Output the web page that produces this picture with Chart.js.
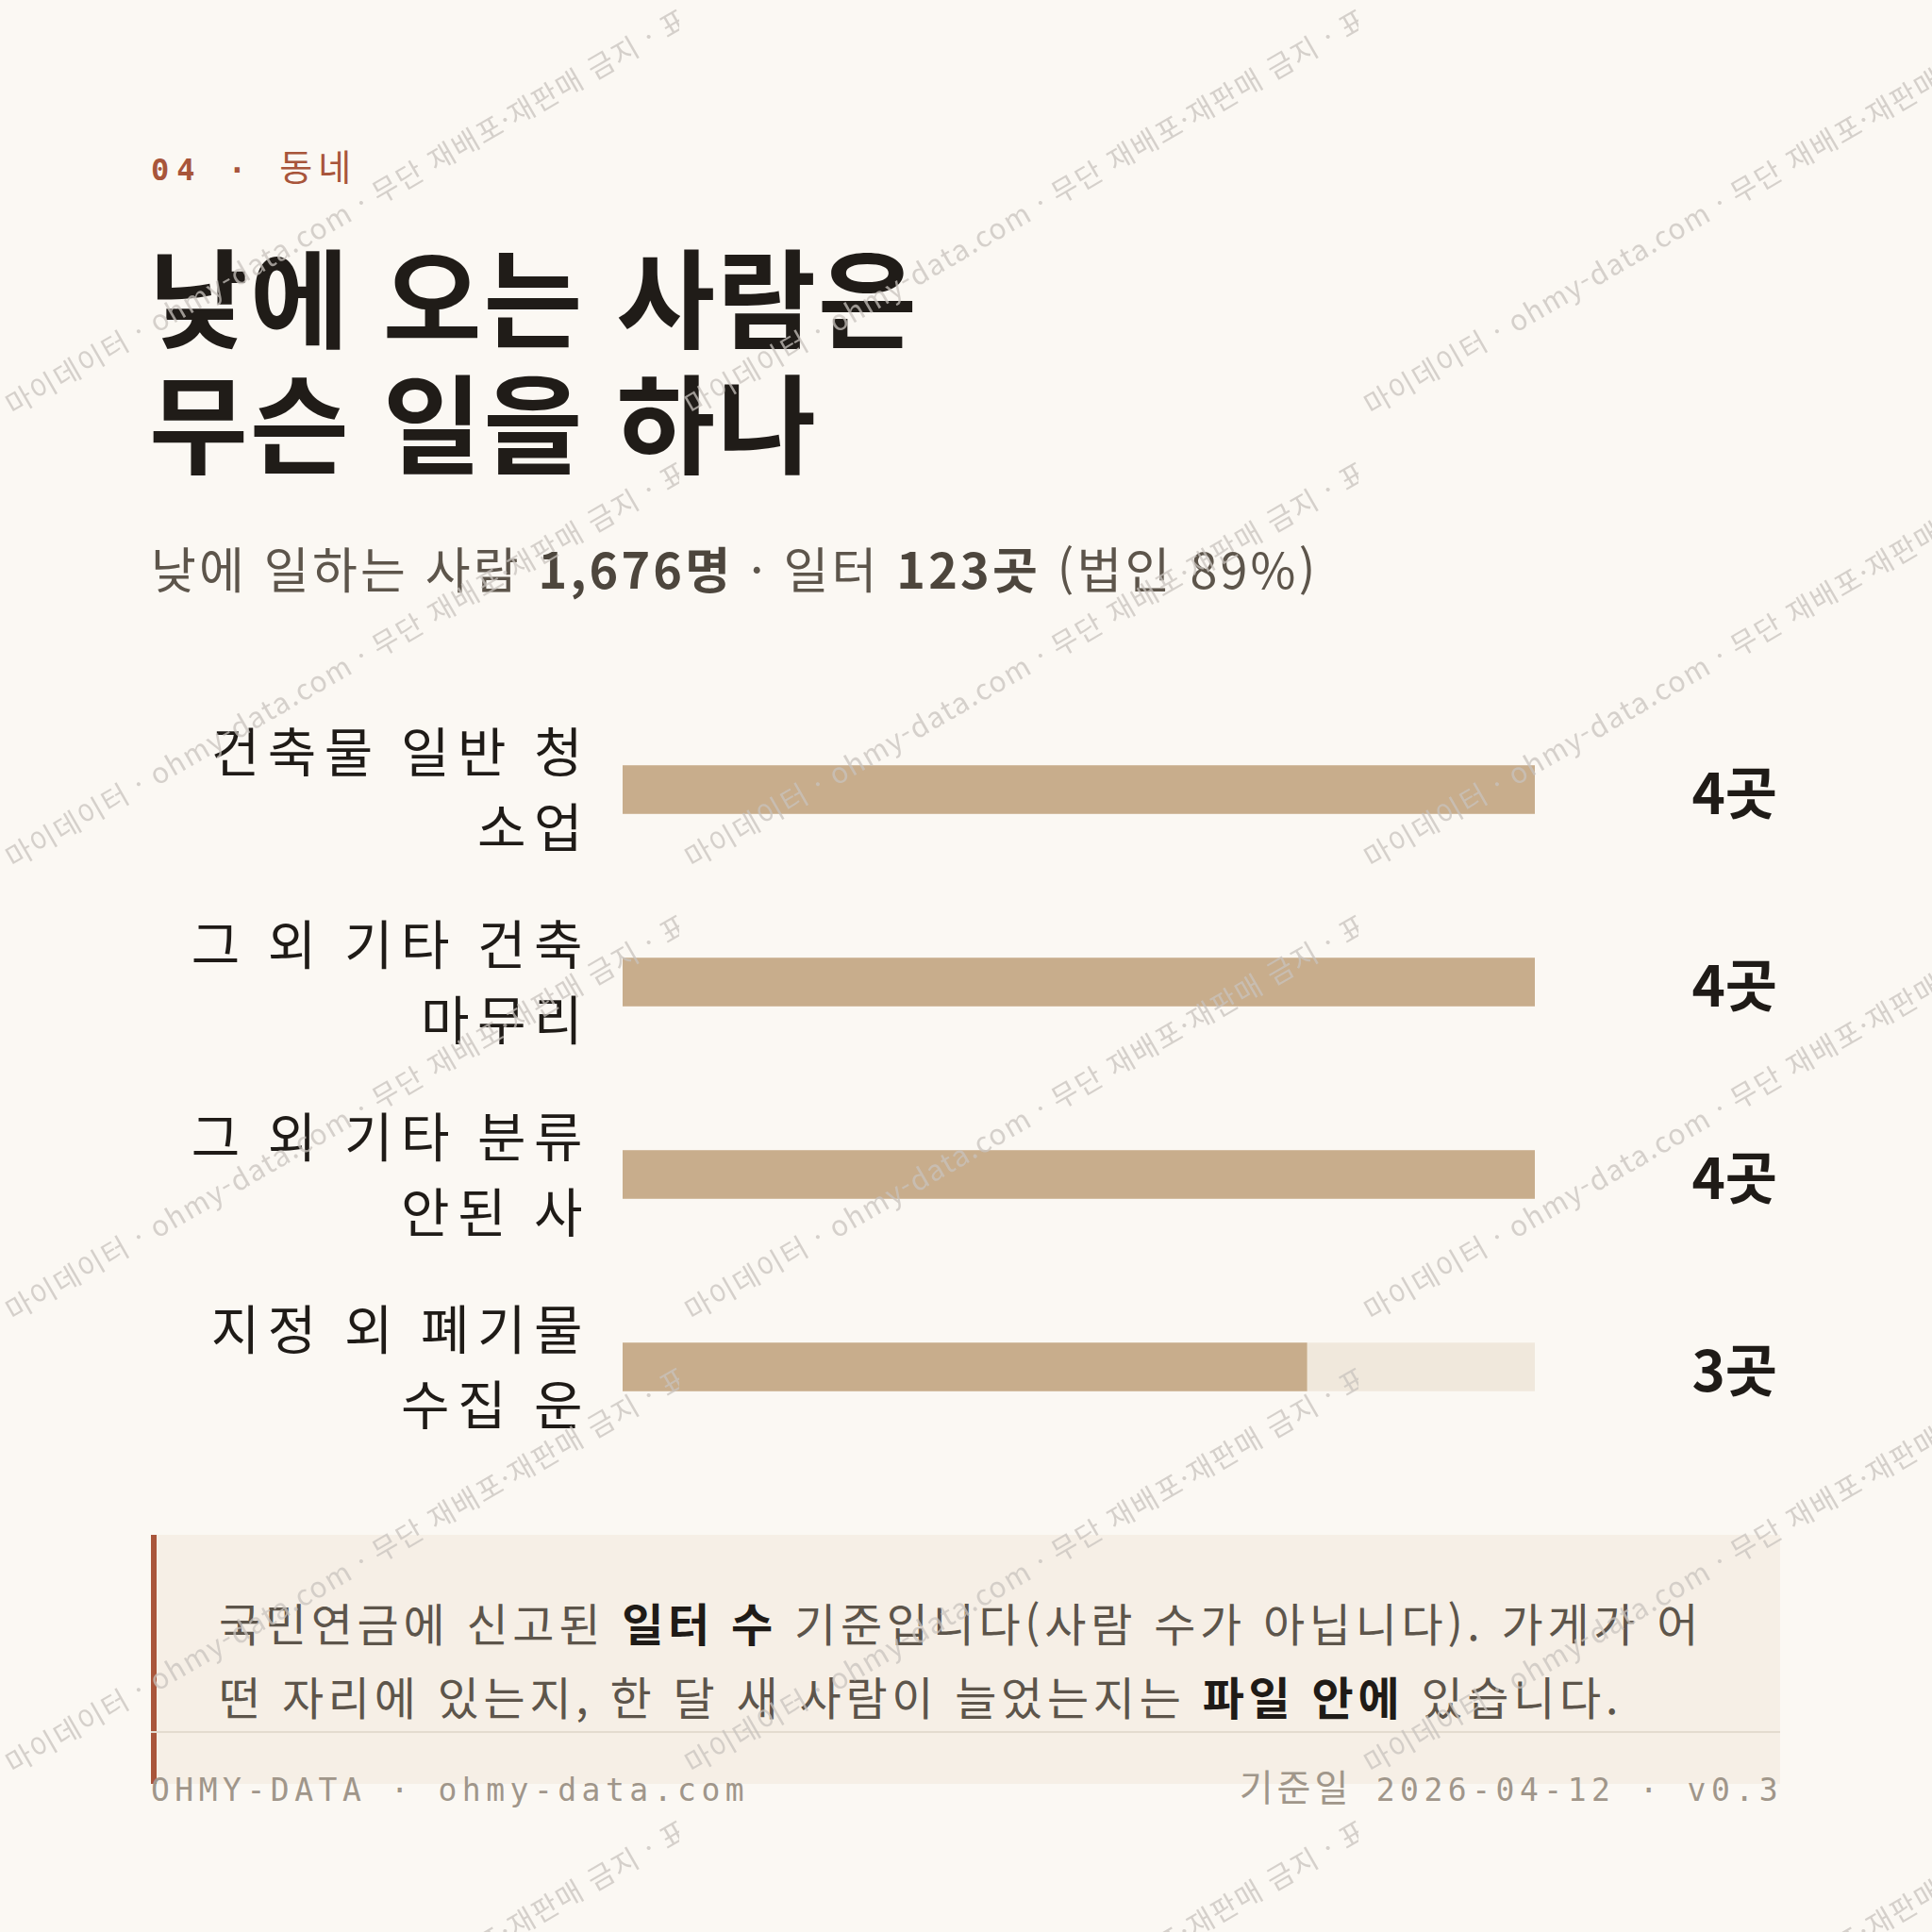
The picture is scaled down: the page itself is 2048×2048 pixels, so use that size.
<!DOCTYPE html>
<html lang="ko">
<head>
<meta charset="utf-8">
<script src="https://cdn.jsdelivr.net/npm/chart.js@4.4.1/dist/chart.umd.min.js"></script>
<style>
  html, body { margin: 0; padding: 0; }
  body {
    width: 2048px; height: 2048px; position: relative; overflow: hidden;
    background: #fbf8f3; font-family: "Noto Sans CJK KR", "Noto Sans", sans-serif;
  }
  .abs { position: absolute; }
  .eyebrow {
    left: 160px; top: 155px; font-size: 32px; line-height: 40px; letter-spacing: 8px;
    color: #a8553a; font-family: "DejaVu Sans Mono", "Noto Sans CJK KR", monospace;
    white-space: nowrap;
  }
  .eyebrow b { font-weight: 700; }
  .eyebrow .ko { font-family: "Noto Sans CJK KR", sans-serif; font-size: 38px; letter-spacing: 6px; }
  .title {
    left: 158px; top: 244px; font-size: 114px; line-height: 133px; font-weight: 700;
    letter-spacing: 2px; color: #201c18; margin: 0; white-space: nowrap;
  }
  .sub {
    left: 160px; top: 567px; font-size: 52px; line-height: 70px; color: #5d554b;
    white-space: nowrap; letter-spacing: 3.2px;
  }
  .sub b { font-weight: 700; color: #4d463d; }
  #wrap { left: 160px; top: 700px; width: 1728px; height: 890px; }
  .note {
    left: 160px; top: 1627px; width: 1727px; height: 264px; box-sizing: border-box;
    background: #f6efe6; border-left: 6px solid #a9553a;
    padding: 53px 0 0 66px; font-size: 48px; line-height: 78px; color: #5d554b;
    white-space: nowrap; letter-spacing: 4.7px;
  }
  .note b { color: #1f1b17; font-weight: 700; }
  .rule { left: 160px; top: 1835px; width: 1727px; height: 2px; background: #e3dbcf; }
  .foot {
    top: 1878px; font-size: 33px; line-height: 40px; letter-spacing: 5.5px; color: #a0968a;
    font-family: "DejaVu Sans Mono", "Noto Sans CJK KR", monospace; white-space: nowrap;
  }
  .foot .ko { font-family: "Noto Sans CJK KR", sans-serif; font-size: 39px; letter-spacing: 4px; }
  .foot.l { left: 160px; }
  .foot.r { right: 158px; top: 1872px; }
  #wm { left: 0; top: 0; width: 2048px; height: 2048px; pointer-events: none; }
  .tile { position: absolute; width: 720px; height: 480px; overflow: hidden; }
  .tile span {
    position: absolute; left: 15px; bottom: 37px; transform-origin: 0 100%;
    transform: rotate(-30deg); white-space: nowrap; font-size: 30px; line-height: 1;
    letter-spacing: 1.6px; color: rgba(200, 195, 190, 0.75);
  }
</style>
</head>
<body>
<div class="abs eyebrow"><b>04 ·</b> <span class="ko">동네</span></div>
<h1 class="abs title">낮에 오는 사람은<br>무슨 일을 하나</h1>
<div class="abs sub">낮에 일하는 사람 <b>1,676명</b> · 일터 <b>123곳</b> (법인 89%)</div>
<div class="abs" id="wrap"><canvas id="chart" width="1728" height="890"></canvas></div>
<div class="abs note">국민연금에 신고된 <b>일터 수</b> 기준입니다(사람 수가 아닙니다). 가게가 어<br>떤 자리에 있는지, 한 달 새 사람이 늘었는지는 <b>파일 안에</b> 있습니다.</div>
<div class="abs rule"></div>
<div class="abs foot l">OHMY-DATA · ohmy-data.com</div>
<div class="abs foot r"><span class="ko">기준일</span> 2026-04-12 · v0.3</div>
<div class="abs" id="wm"></div>
<script>
// 업종별 일터 수 (낮 시간대)
const categories = [
  ['건축물 일반 청', '소업'],
  ['그 외 기타 건축', '마무리'],
  ['그 외 기타 분류', '안된 사'],
  ['지정 외 폐기물', '수집 운']
];
const counts = [4, 4, 4, 3];
const trackValues = [4, 4, 4, 4];
const unit = '곳';

const barColor = '#c8ad8c';
const trackColor = '#f0e8dc';
const inkColor = '#1f1b17';
const font = '"Noto Sans CJK KR", "Noto Sans", sans-serif';

// 라벨 자간
const spacing = {
  id: 'spacing',
  beforeDraw(chart) { chart.ctx.letterSpacing = '8.5px'; },
  afterDraw(chart) { chart.ctx.letterSpacing = '0px'; }
};

// 막대 오른쪽 끝에 "n곳" 표시
const valueLabels = {
  id: 'valueLabels',
  afterDatasetsDraw(chart) {
    const ctx = chart.ctx;
    const meta = chart.getDatasetMeta(1);
    ctx.save();
    ctx.letterSpacing = '0px';
    ctx.font = '700 60px ' + font;
    ctx.fillStyle = inkColor;
    ctx.textAlign = 'right';
    ctx.textBaseline = 'middle';
    meta.data.forEach((bar, i) => {
      ctx.fillText(counts[i] + unit, chart.chartArea.right + 257, bar.y + 3);
    });
    ctx.restore();
  }
};

new Chart(document.getElementById('chart'), {
  type: 'bar',
  data: {
    labels: categories,
    datasets: [
      {
        label: 'track',
        data: trackValues,
        backgroundColor: trackColor,
        barThickness: 51,
        grouped: false,
        order: 2
      },
      {
        label: '일터 수',
        data: counts,
        backgroundColor: barColor,
        barThickness: 51,
        grouped: false,
        order: 1
      }
    ]
  },
  options: {
    indexAxis: 'y',
    responsive: false,
    animation: false,
    layout: { padding: { top: 35, bottom: 39, right: 261, left: 0 } },
    plugins: { legend: { display: false }, tooltip: { enabled: false } },
    scales: {
      x: { display: false, min: 0, max: 4 },
      y: {
        afterFit(scale) {
          scale.width = 500;
          scale.paddingTop = 0;
          scale.paddingBottom = 0;
        },
        border: { display: false },
        grid: { display: false, drawTicks: false },
        ticks: {
          padding: 34,
          color: inkColor,
          font: { family: font, size: 56, lineHeight: 80 / 56 }
        }
      }
    }
  },
  plugins: [spacing, valueLabels]
});

// 워터마크
const wmText = '마이데이터 · ohmy-data.com · 무단 재배포·재판매 금지 · 표본 데이터';
const wm = document.getElementById('wm');
for (let r = 0; r < 5; r++) {
  for (let c = 0; c < 3; c++) {
    const t = document.createElement('div');
    t.className = 'tile';
    t.style.left = (c * 720) + 'px';
    t.style.top = (r * 480) + 'px';
    const s = document.createElement('span');
    s.textContent = wmText;
    t.appendChild(s);
    wm.appendChild(t);
  }
}
</script>
</body>
</html>
